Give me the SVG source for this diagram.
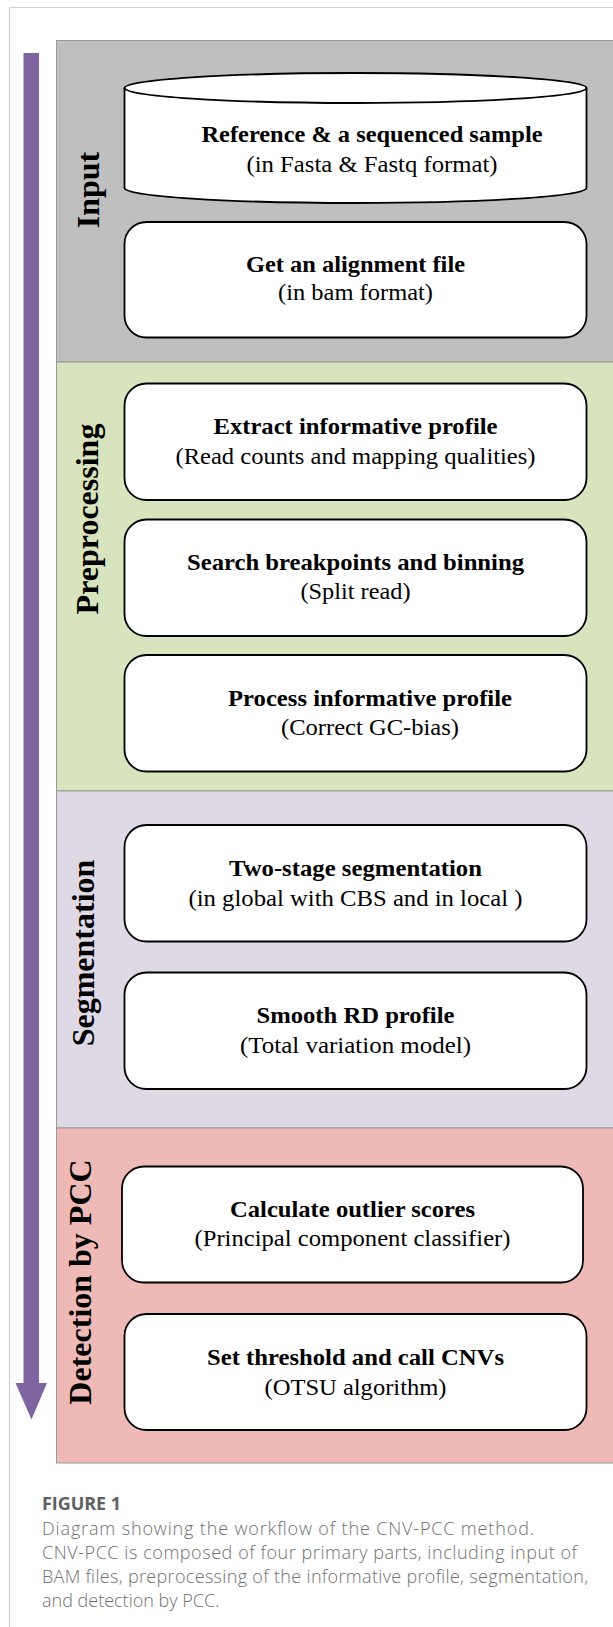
<svg xmlns="http://www.w3.org/2000/svg" width="613" height="1627" viewBox="0 0 613 1627">
<style>
.panel{stroke:#9a9a9a;stroke-width:1}
.box{fill:#fff;stroke:#000;stroke-width:1.8}
.t{font-family:"Liberation Serif","Times New Roman",serif;font-size:22.5px;font-weight:bold;fill:#000;text-anchor:middle}
.s{font-family:"Liberation Serif","Times New Roman",serif;font-size:22.5px;fill:#000;text-anchor:middle}
.lab{font-family:"Liberation Serif","Times New Roman",serif;font-size:32px;font-weight:bold;fill:#000;text-anchor:middle}
.cap{font-family:"Open Sans",Lato,sans-serif;font-size:18px;font-weight:300;fill:#707070}
</style>
<rect width="613" height="1627" fill="#fff"/>
<path d="M9.5,1627 V7.5 H613" fill="none" stroke="#d0d0d0" stroke-width="1.2"/>

<g id="panels">
<rect class="panel" x="56.5" y="40.5" width="570" height="321.5" fill="#BFBFBF"/>
<rect class="panel" x="56.5" y="362" width="570" height="429" fill="#D7E4BD"/>
<rect class="panel" x="56.5" y="791" width="570" height="337" fill="#DFD8E5"/>
<rect class="panel" x="56.5" y="1128" width="570" height="335" fill="#EFB9B6"/>
</g>

<g id="flow-arrow">
<path d="M23.5,53 H39 V1383 H47 L31.5,1419.5 L15.5,1383 H23.5 Z" fill="#8064A2"/>
</g>

<g id="labels">
<text class="lab" transform="translate(99,190) rotate(-90)">Input</text>
<text class="lab" transform="translate(98,519) rotate(-90)">Preprocessing</text>
<text class="lab" transform="translate(94,953) rotate(-90)">Segmentation</text>
<text class="lab" transform="translate(91,1282) rotate(-90)">Detection by PCC</text>
</g>

<g id="node-input-data">
<path class="box" d="M124.5,88 A231,15 0 0 1 586.5,88 L586.5,188 A231,15 0 0 1 124.5,188 Z"/>
<path d="M124.5,88 A231,15 0 0 0 586.5,88" fill="none" stroke="#000" stroke-width="1.8"/>
<text class="t" x="372" y="142" textLength="341" lengthAdjust="spacingAndGlyphs">Reference &amp; a sequenced sample</text>
<text class="s" x="372" y="172" textLength="251" lengthAdjust="spacingAndGlyphs">(in Fasta &amp; Fastq format)</text>
</g>

<g id="node-alignment">
<rect class="box" x="124.5" y="222" width="462" height="115.5" rx="22"/>
<text class="t" x="355.5" y="272" textLength="219" lengthAdjust="spacingAndGlyphs">Get an alignment file</text>
<text class="s" x="355.5" y="300" textLength="155" lengthAdjust="spacingAndGlyphs">(in bam format)</text>
</g>

<g id="node-extract">
<rect class="box" x="124.5" y="383.5" width="462" height="116.5" rx="22"/>
<text class="t" x="355.5" y="434" textLength="284" lengthAdjust="spacingAndGlyphs">Extract informative profile</text>
<text class="s" x="355.5" y="464" textLength="360" lengthAdjust="spacingAndGlyphs">(Read counts and mapping qualities)</text>
</g>

<g id="node-breakpoints">
<rect class="box" x="124.5" y="519.5" width="462" height="116.5" rx="22"/>
<text class="t" x="355.5" y="570" textLength="337" lengthAdjust="spacingAndGlyphs">Search breakpoints and binning</text>
<text class="s" x="355.5" y="599" textLength="110" lengthAdjust="spacingAndGlyphs">(Split read)</text>
</g>

<g id="node-process">
<rect class="box" x="124.5" y="655" width="462" height="116.5" rx="22"/>
<text class="t" x="370" y="706" textLength="284" lengthAdjust="spacingAndGlyphs">Process informative profile</text>
<text class="s" x="370" y="735" textLength="178" lengthAdjust="spacingAndGlyphs">(Correct GC-bias)</text>
</g>

<g id="node-twostage">
<rect class="box" x="124.5" y="825" width="462" height="116.5" rx="22"/>
<text class="t" x="355.5" y="876" textLength="253" lengthAdjust="spacingAndGlyphs">Two-stage segmentation</text>
<text class="s" x="355.5" y="906" textLength="334" lengthAdjust="spacingAndGlyphs">(in global with CBS and in local )</text>
</g>

<g id="node-smooth">
<rect class="box" x="124.5" y="972.5" width="462" height="116.5" rx="22"/>
<text class="t" x="355.5" y="1023" textLength="198" lengthAdjust="spacingAndGlyphs">Smooth RD profile</text>
<text class="s" x="355.5" y="1053" textLength="231" lengthAdjust="spacingAndGlyphs">(Total variation model)</text>
</g>

<g id="node-outlier">
<rect class="box" x="122" y="1166.5" width="461" height="116" rx="22"/>
<text class="t" x="352.5" y="1217" textLength="245" lengthAdjust="spacingAndGlyphs">Calculate outlier scores</text>
<text class="s" x="352.5" y="1246" textLength="316" lengthAdjust="spacingAndGlyphs">(Principal component classifier)</text>
</g>

<g id="node-threshold">
<rect class="box" x="124.5" y="1314" width="462" height="116" rx="22"/>
<text class="t" x="355.5" y="1365" textLength="297" lengthAdjust="spacingAndGlyphs">Set threshold and call CNVs</text>
<text class="s" x="355.5" y="1395" textLength="182" lengthAdjust="spacingAndGlyphs">(OTSU algorithm)</text>
</g>

<g id="connectors"></g>

<g id="caption">
<text class="cap" x="42" y="1510" textLength="79" style="font-weight:bold;fill:#606060;font-size:18px">FIGURE 1</text>
<text class="cap" x="42" y="1535" textLength="492">Diagram showing the workflow of the CNV-PCC method.</text>
<text class="cap" x="42" y="1559" textLength="535">CNV-PCC is composed of four primary parts, including input of</text>
<text class="cap" x="42" y="1583" textLength="546">BAM files, preprocessing of the informative profile, segmentation,</text>
<text class="cap" x="42" y="1607">and detection by PCC.</text>
</g>
</svg>
